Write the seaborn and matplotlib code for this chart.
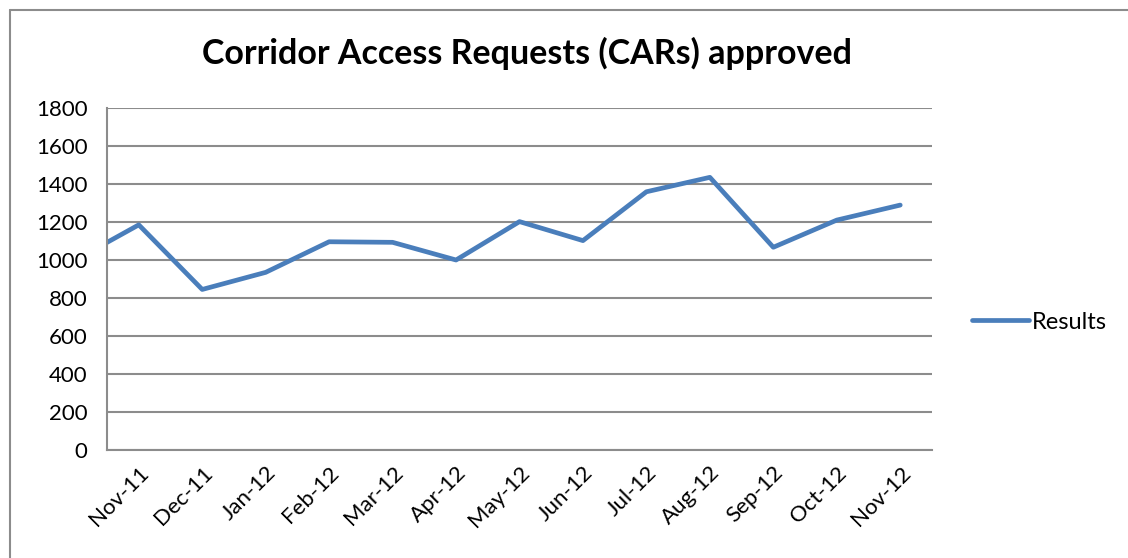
import numpy as np
import pandas as pd
import matplotlib
matplotlib.use('Agg')
import matplotlib.pyplot as plt
import seaborn as sns
from matplotlib.lines import Line2D

# Datos (Oct-11 queda fuera del eje, solo se ve el tramo inicial)
months = ['Oct-11', 'Nov-11', 'Dec-11', 'Jan-12', 'Feb-12', 'Mar-12', 'Apr-12',
          'May-12', 'Jun-12', 'Jul-12', 'Aug-12', 'Sep-12', 'Oct-12', 'Nov-12']
results = [1000, 1185, 845, 935, 1096, 1093, 1000,
           1202, 1102, 1359, 1435, 1067, 1210, 1289]
y_ticks = [0, 200, 400, 600, 800, 1000, 1200, 1400, 1600, 1800]

data = pd.DataFrame({'pos': np.arange(len(months)), 'month': months, 'Results': results})

sns.set_style('white')
plt.rcParams['font.family'] = ['Lato', 'DejaVu Sans']
plt.rcParams['text.color'] = 'black'
plt.rcParams['xtick.labelcolor'] = 'black'
plt.rcParams['ytick.labelcolor'] = 'black'

grid_color = '#8c8c8c'
line_color = '#4a7ebb'

fig = plt.figure(figsize=(11.28, 5.58), dpi=100)
ax = fig.add_axes([0.0949, 0.1935, 0.7313, 0.613])

sns.lineplot(data=data, x='pos', y='Results', ax=ax, color=line_color,
             linewidth=3.4, label='Results', sort=False)

ax.set_xlim(0.5, len(months) - 0.5)
ax.set_ylim(0, 1800)
ax.set_yticks(y_ticks)
ax.set_yticklabels([str(v) for v in y_ticks], fontsize=16)

ax.set_xticks(data['pos'][1:])
ax.set_xticklabels(months[1:], rotation=45, ha='right', rotation_mode='anchor', fontsize=16)
ax.set_xticks(np.arange(0.5, len(months), 1.0), minor=True)
ax.tick_params(axis='x', which='major', length=0, pad=9, labelcolor='black')
ax.tick_params(axis='x', which='minor', length=7, width=1.5, color=grid_color, direction='out')
ax.tick_params(axis='y', length=8, width=1.5, color=grid_color, direction='out', pad=6,
               labelcolor='black')

ax.yaxis.grid(True, color=grid_color, linewidth=1.5)
ax.set_axisbelow(True)
for side in ['top', 'right']:
    ax.spines[side].set_visible(False)
for side in ['left', 'bottom']:
    ax.spines[side].set_color(grid_color)
    ax.spines[side].set_linewidth(1.5)

ax.set_xlabel('')
ax.set_ylabel('')

fig.suptitle('Corridor Access Requests (CARs) approved', fontsize=24.5, fontweight='bold',
             x=0.467, y=0.905, va='center', color='black')

leg = ax.legend(loc='center left', bbox_to_anchor=(0.8617, 0.4229), bbox_transform=fig.transFigure,
                frameon=False, fontsize=17, handlelength=2.4, handletextpad=0.15,
                borderpad=0, borderaxespad=0)
for t in leg.get_texts():
    t.set_color('black')

# marco del area del grafico
fig.add_artist(Line2D([0.0089, 0.0089], [0.0, 0.982], color=grid_color, linewidth=1.5))
fig.add_artist(Line2D([0.0089, 1.0], [0.982, 0.982], color=grid_color, linewidth=1.5))

plt.savefig('out.png', dpi=100)
